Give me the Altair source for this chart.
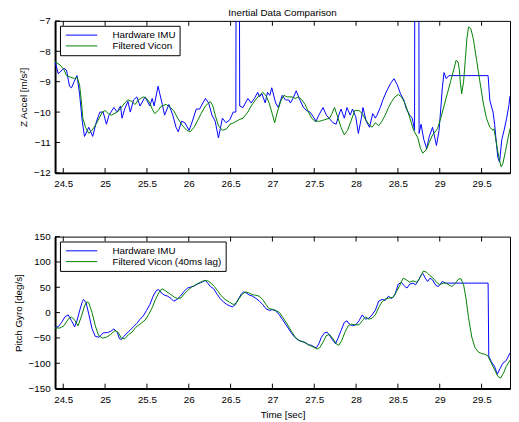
import altair as alt
import pandas as pd

# ---------------- data ----------------
acc_imu_t = [24.402, 24.441, 24.473, 24.508, 24.539, 24.574, 24.598, 24.630, 24.664, 24.695,
             24.727, 24.754, 24.805, 24.852, 24.898, 24.938, 24.977, 25.016, 25.047, 25.105,
             25.145, 25.184, 25.203, 25.234, 25.273, 25.301, 25.340, 25.379, 25.418, 25.477,
             25.535, 25.563, 25.586, 25.633, 25.684, 25.711, 25.762, 25.809, 25.848, 25.875,
             25.914, 25.953, 26.004, 26.031, 26.090, 26.129, 26.199, 26.238, 26.277, 26.316,
             26.355, 26.402, 26.445, 26.492, 26.531, 26.563, 26.566, 26.605, 26.609, 26.648,
             26.707, 26.746, 26.785, 26.824, 26.844, 26.875, 26.914, 26.941, 26.969, 26.992,
             27.039, 27.070, 27.117, 27.156, 27.195, 27.215, 27.246, 27.285, 27.320, 27.371,
             27.410, 27.449, 27.488, 27.520, 27.555, 27.605, 27.645, 27.676, 27.723, 27.762,
             27.793, 27.820, 27.859, 27.891, 27.930, 27.957, 27.996, 28.027, 28.063, 28.082,
             28.121, 28.160, 28.199, 28.230, 28.250, 28.289, 28.320, 28.367, 28.414, 28.453,
             28.492, 28.531, 28.570, 28.602, 28.641, 28.672, 28.699, 28.702, 28.750, 28.753,
             28.777, 28.809, 28.844, 28.875, 28.914, 28.961, 28.992, 29.012, 29.031, 29.051,
             29.078, 29.109, 29.578, 29.598, 29.617, 29.637, 29.656, 29.676, 29.695, 29.715,
             29.742, 29.769, 29.800, 29.828, 29.840]
acc_imu_v = [-8.34, -8.74, -8.65, -8.56, -8.62, -9.15, -9.2, -9.0, -8.8, -9.4,
             -10.3, -10.8, -10.5, -10.8, -10.3, -10.0, -10.0, -10.4, -10.1, -9.85,
             -10.0, -9.8, -10.2, -9.9, -9.65, -10.0, -9.6, -9.5, -9.8, -9.5,
             -9.8, -9.55, -9.8, -9.15, -9.75, -10.1, -9.75, -10.1, -10.5, -10.65,
             -10.3, -10.35, -10.6, -10.4, -9.9, -9.9, -9.55, -9.7, -10.1, -10.3,
             -10.85, -10.2, -10.35, -10.25, -10.0, -10.0, -5.0, -5.0, -9.8, -9.85,
             -9.55, -9.7, -9.55, -9.35, -9.5, -9.4, -9.7, -9.35, -9.45, -9.2,
             -9.7, -9.85, -9.45, -9.6, -9.6, -9.7, -9.55, -9.3, -9.55, -9.85,
             -9.95, -10.0, -10.15, -10.3, -10.1, -9.85, -10.1, -10.2, -10.35, -10.4,
             -10.1, -9.9, -10.2, -9.85, -10.1, -9.9, -10.15, -10.7, -10.2, -9.85,
             -10.3, -10.5, -10.05, -10.2, -10.1, -9.85, -9.6, -9.3, -9.05, -8.9,
             -9.1, -9.4, -9.6, -9.9, -10.1, -10.2, -10.6, -5.0, -5.0, -10.7,
             -10.4, -10.9, -11.2, -10.8, -10.5, -11.1, -10.6, -9.9, -9.2, -8.7,
             -8.9, -8.8, -8.8, -9.6, -9.8, -10.0, -10.4, -11.0, -11.5, -11.65,
             -10.9, -10.6, -10.2, -9.75, -9.47]

acc_vic_t = [24.402, 24.461, 24.508, 24.539, 24.586, 24.637, 24.664, 24.695, 24.715, 24.734,
             24.766, 24.805, 24.844, 24.891, 24.930, 24.969, 25.000, 25.039, 25.078, 25.145,
             25.195, 25.234, 25.273, 25.320, 25.359, 25.398, 25.457, 25.496, 25.535, 25.563,
             25.594, 25.633, 25.672, 25.730, 25.781, 25.820, 25.867, 25.926, 25.977, 26.016,
             26.063, 26.102, 26.148, 26.199, 26.258, 26.289, 26.316, 26.355, 26.402, 26.453,
             26.492, 26.539, 26.602, 26.648, 26.707, 26.746, 26.797, 26.844, 26.883, 26.922,
             26.961, 26.992, 27.027, 27.059, 27.098, 27.137, 27.176, 27.234, 27.273, 27.313,
             27.352, 27.391, 27.430, 27.469, 27.508, 27.566, 27.625, 27.684, 27.711, 27.742,
             27.773, 27.820, 27.859, 27.898, 27.938, 27.984, 28.035, 28.074, 28.113, 28.152,
             28.191, 28.230, 28.270, 28.309, 28.348, 28.387, 28.426, 28.465, 28.504, 28.543,
             28.582, 28.621, 28.660, 28.688, 28.738, 28.770, 28.797, 28.836, 28.875, 28.914,
             28.973, 29.012, 29.051, 29.090, 29.129, 29.168, 29.195, 29.219, 29.234, 29.246,
             29.262, 29.285, 29.305, 29.324, 29.344, 29.371, 29.402, 29.441, 29.480, 29.520,
             29.559, 29.598, 29.637, 29.648, 29.664, 29.688, 29.715, 29.734, 29.754, 29.785,
             29.813, 29.840]
acc_vic_v = [-8.34, -8.45, -8.6, -8.8, -8.85, -8.9, -8.85, -9.1, -9.6, -10.2,
             -10.5, -10.7, -10.6, -10.4, -10.2, -10.0, -9.95, -10.05, -10.1, -10.0,
             -9.85, -9.7, -9.6, -9.65, -9.75, -9.6, -9.5, -9.55, -9.7, -9.9,
             -10.05, -9.95, -9.8, -9.75, -9.85, -9.95, -10.2, -10.45, -10.6, -10.65,
             -10.5, -10.3, -10.05, -9.8, -9.65, -9.8, -10.1, -10.45, -10.6, -10.55,
             -10.4, -10.35, -10.25, -10.2, -10.0, -9.8, -9.6, -9.45, -9.35, -9.45,
             -9.7, -10.0, -10.35, -10.0, -9.65, -9.45, -9.5, -9.5, -9.55, -9.5,
             -9.6, -9.75, -10.0, -10.2, -10.3, -10.3, -10.25, -10.2, -10.05, -9.85,
             -10.1, -10.5, -10.75, -10.6, -10.3, -9.95, -9.95, -10.05, -10.25, -10.4,
             -10.5, -10.35, -10.45, -10.3, -10.1, -9.85, -9.65, -9.5, -9.42, -9.5,
             -9.7, -10.0, -10.35, -10.6, -10.85, -11.2, -11.35, -11.25, -11.0, -10.75,
             -10.55, -10.2, -9.8, -9.4, -9.0, -8.6, -8.3, -8.35, -8.6, -9.0,
             -9.4, -9.0, -8.3, -7.6, -7.2, -7.25, -7.6, -8.3, -9.0, -9.7,
             -10.2, -10.5, -10.6, -10.55, -10.8, -11.2, -11.6, -11.8, -11.7, -11.3,
             -10.9, -10.55]

gyr_imu_t = [24.402, 24.441, 24.480, 24.520, 24.559, 24.598, 24.637, 24.664, 24.695, 24.727,
             24.742, 24.773, 24.805, 24.844, 24.883, 24.930, 24.977, 25.027, 25.066, 25.105,
             25.145, 25.172, 25.195, 25.223, 25.262, 25.301, 25.340, 25.379, 25.418, 25.457,
             25.496, 25.535, 25.574, 25.613, 25.641, 25.672, 25.711, 25.750, 25.789, 25.820,
             25.859, 25.898, 25.945, 25.984, 26.023, 26.063, 26.102, 26.141, 26.172, 26.199,
             26.227, 26.258, 26.297, 26.336, 26.375, 26.414, 26.453, 26.492, 26.523, 26.551,
             26.590, 26.629, 26.656, 26.688, 26.727, 26.766, 26.805, 26.844, 26.883, 26.922,
             26.961, 27.000, 27.039, 27.078, 27.117, 27.156, 27.195, 27.234, 27.273, 27.313,
             27.352, 27.391, 27.430, 27.469, 27.500, 27.527, 27.555, 27.586, 27.625, 27.656,
             27.684, 27.723, 27.754, 27.781, 27.820, 27.859, 27.891, 27.918, 27.957, 27.996,
             28.035, 28.074, 28.113, 28.152, 28.191, 28.230, 28.270, 28.309, 28.348, 28.387,
             28.426, 28.465, 28.504, 28.543, 28.582, 28.609, 28.641, 28.680, 28.711, 28.750,
             28.777, 28.797, 28.828, 28.855, 28.883, 28.914, 28.953, 28.984, 29.031, 29.070,
             29.109, 29.578, 29.586, 29.617, 29.656, 29.688, 29.723, 29.754, 29.793, 29.840]
gyr_imu_v = [-29.1, -27.8, -19.4, -8.4, -4.5, -16, -28, -16, 3.2, 21.3,
             26, 19.4, -3, -32, -47, -48.5, -40, -39.5, -37, -32.3,
             -38.8, -51.7, -53, -47, -40.7, -34.3, -27.8, -21.3, -13, -6.5,
             4.5, 16, 32.3, 44, 45.2, 38.8, 34.3, 32.3, 27.8, 22.6,
             26, 32.3, 42, 48.5, 50.4, 52.4, 56.2, 58.8, 61.4, 63.4,
             58.2, 51.7, 47.2, 36.8, 27.8, 21.3, 16.2, 13, 11.6, 14.9,
             26, 36.8, 40.7, 38.8, 34.3, 32.3, 27.8, 22.6, 16.2, 7.7,
             4.5, 5.8, 3.2, -3.2, -13, -22.6, -32.3, -42, -49.8, -55,
             -57, -58.8, -63.4, -64.7, -68, -69.2, -61.4, -48.5, -39.5, -38.8,
             -45.3, -55, -61.4, -51.7, -35.6, -19.4, -16.2, -22.6, -25.9, -24,
             -16.2, -4.5, -13, -11, -4.5, 4.5, 22.6, 26, 24, 32.3,
             27.8, 35.6, 56.2, 59.5, 51.7, 48.5, 56.2, 58.2, 55, 64.6,
             74.3, 77.6, 67.9, 61.4, 67.9, 64.6, 53.7, 51.7, 61.4, 58,
             58.2, 58.2, -86, -97, -106.7, -121.6, -110, -100, -95, -79.5]

gyr_vic_t = [24.402, 24.461, 24.508, 24.559, 24.598, 24.637, 24.676, 24.715, 24.754, 24.781,
             24.805, 24.844, 24.883, 24.922, 24.969, 25.016, 25.066, 25.117, 25.156, 25.195,
             25.234, 25.281, 25.320, 25.367, 25.418, 25.477, 25.523, 25.563, 25.602, 25.641,
             25.680, 25.719, 25.758, 25.797, 25.828, 25.867, 25.906, 25.945, 25.984, 26.031,
             26.082, 26.141, 26.188, 26.227, 26.266, 26.305, 26.344, 26.383, 26.434, 26.484,
             26.531, 26.563, 26.602, 26.641, 26.680, 26.719, 26.758, 26.797, 26.844, 26.883,
             26.922, 26.961, 27.000, 27.039, 27.086, 27.125, 27.176, 27.227, 27.273, 27.320,
             27.371, 27.430, 27.488, 27.535, 27.566, 27.605, 27.645, 27.684, 27.723, 27.762,
             27.793, 27.828, 27.867, 27.906, 27.945, 27.984, 28.035, 28.074, 28.113, 28.152,
             28.191, 28.230, 28.270, 28.309, 28.359, 28.406, 28.445, 28.484, 28.523, 28.563,
             28.602, 28.641, 28.680, 28.727, 28.766, 28.805, 28.844, 28.883, 28.922, 28.961,
             29.000, 29.039, 29.078, 29.117, 29.148, 29.188, 29.227, 29.254, 29.285, 29.313,
             29.344, 29.383, 29.422, 29.461, 29.500, 29.539, 29.578, 29.617, 29.656, 29.695,
             29.727, 29.762, 29.793, 29.840]
gyr_vic_v = [-30.4, -30.4, -26, -13, -8.4, -14.9, -26, -8.4, 13, 21.3,
             19.4, 0, -26, -45, -50.4, -48.5, -43.3, -35.6, -38.8, -50.4,
             -51.7, -43.3, -38.8, -29, -22.6, -14.9, -3.2, 9.7, 26, 38.8,
             47.2, 43.3, 38.8, 34.3, 30.4, 27.8, 29, 36.8, 43.3, 49.8,
             55, 60.1, 63.4, 62.7, 58.2, 51.7, 43.3, 34.3, 26, 20.7,
             16.2, 17.5, 27.8, 36.8, 40.7, 38.8, 35.6, 34.3, 32.3, 26,
             16.2, 7.7, 6.5, 4.5, 0, -9.7, -22.6, -36.8, -48.5, -55,
             -58.2, -63.4, -68, -71.8, -69.2, -58.2, -45.3, -43.3, -51.7, -61.4,
             -64.7, -55, -38.8, -25.9, -22.6, -24, -24, -16.2, -8.4, -13,
             -11, -4.5, 9.7, 21.3, 27.8, 29, 30.4, 42, 53.7, 67.9,
             64.6, 60, 62.7, 60, 69.2, 82.1, 79.5, 73, 67.9, 60,
             55, 58.2, 58.2, 53.7, 51.7, 58.2, 66.6, 66.6, 55, 29,
             -9.7, -48.5, -69.2, -77.6, -80.8, -82.1, -86, -100, -113, -126,
             -129.3, -119.6, -106.7, -93.8]

x_ticks = [24.5, 25, 25.5, 26, 26.5, 27, 27.5, 28, 28.5, 29, 29.5]
acc_ticks = [-12, -11, -10, -9, -8, -7]
gyr_ticks = [-150, -100, -50, 0, 50, 100, 150]

IMU = "Hardware IMU"
VIC_TOP = "Filtered Vicon"
VIC_BOT = "Filtered Vicon (40ms lag)"

# ---------------- layout constants ----------------
W, H = 464, 155
XDOM = [24.402, 29.84]
FONT = "Liberation Sans"
BLUE, GREEN = "#0000ff", "#008000"


def series_df(t_a, v_a, t_b, v_b, name_b):
    a = pd.DataFrame({"t": t_a, "v": v_a, "s": IMU})
    b = pd.DataFrame({"t": t_b, "v": v_b, "s": name_b})
    return pd.concat([a, b], ignore_index=True)


def panel(df, ydom, yticks, ytitle, name_b, xtitle=None, title=None):
    xs = alt.Scale(domain=XDOM, nice=False, zero=False)
    ys = alt.Scale(domain=ydom, nice=False, zero=False)
    x_axis = alt.Axis(values=x_ticks, format="~g", ticks=False, tickSize=0,
                      labelPadding=6, domainWidth=2, domainColor="black", grid=False,
                      labelOverlap=False, labelFlush=False, labelBound=False,
                      title=xtitle, titlePadding=5)
    y_axis = alt.Axis(values=yticks, format="d", ticks=False, tickSize=0,
                      labelPadding=5, domainWidth=2, domainColor="black", grid=False,
                      labelOverlap=False, labelFlush=False, labelBound=False,
                      title=ytitle, titlePadding=5)
    color = alt.Color("s:N",
                      scale=alt.Scale(domain=[IMU, name_b], range=[BLUE, GREEN]),
                      legend=alt.Legend(title=None, orient="top-left", offset=5,
                                        strokeColor="black", fillColor="white",
                                        padding=4, cornerRadius=0,
                                        symbolType="M-3.2,0H3.2", symbolSize=100,
                                        symbolStrokeWidth=1, symbolOffset=12.5,
                                        labelOffset=26, rowPadding=0,
                                        labelLimit=300))

    xt = pd.DataFrame({"t": x_ticks})
    yt = pd.DataFrame({"v": yticks})
    top_ticks = alt.Chart(xt).mark_rule(color="black", strokeWidth=1).encode(
        x=alt.X("t:Q", scale=xs, axis=x_axis), y=alt.value(0), y2=alt.value(5))
    bot_ticks = alt.Chart(xt).mark_rule(color="black", strokeWidth=1).encode(
        x=alt.X("t:Q", scale=xs, axis=x_axis), y=alt.value(H - 5), y2=alt.value(H))
    left_ticks = alt.Chart(yt).mark_rule(color="black", strokeWidth=1).encode(
        y=alt.Y("v:Q", scale=ys, axis=y_axis), x=alt.value(0), x2=alt.value(5))
    lines = alt.Chart(df).mark_line(strokeWidth=1, clip=True).encode(
        x=alt.X("t:Q", scale=xs, axis=x_axis),
        y=alt.Y("v:Q", scale=ys, axis=y_axis),
        color=color)

    props = dict(width=W, height=H)
    if title:
        props["title"] = alt.TitleParams(title, fontSize=10, font=FONT, fontWeight="normal",
                                         color="black", anchor="middle", frame="group",
                                         offset=1, dy=3)
    return alt.layer(top_ticks, bot_ticks, left_ticks, lines).properties(**props)


top = panel(series_df(acc_imu_t, acc_imu_v, acc_vic_t, acc_vic_v, VIC_TOP),
            [-12, -7], acc_ticks, "Z Accel [m/s²]", VIC_TOP,
            title="Inertial Data Comparison")
bottom = panel(series_df(gyr_imu_t, gyr_imu_v, gyr_vic_t, gyr_vic_v, VIC_BOT),
               [-150, 150], gyr_ticks, "Pitch Gyro [deg/s]", VIC_BOT,
               xtitle="Time [sec]")

chart = alt.vconcat(top, bottom, spacing=65, bounds="flush").resolve_scale(
    color="independent").resolve_legend(color="independent").properties(
    padding={"left": 4, "top": -5, "right": 0, "bottom": 2}, background="white"
).configure_view(stroke="black", strokeWidth=1).configure_axis(
    labelFont=FONT, labelFontSize=10, labelColor="black",
    titleFont=FONT, titleFontSize=10, titleFontWeight="normal", titleColor="black",
    domainColor="black", grid=False
).configure_legend(labelFont=FONT, labelFontSize=10, labelColor="black")

chart.save("out.html", embed_options={"renderer": "svg", "actions": False})
